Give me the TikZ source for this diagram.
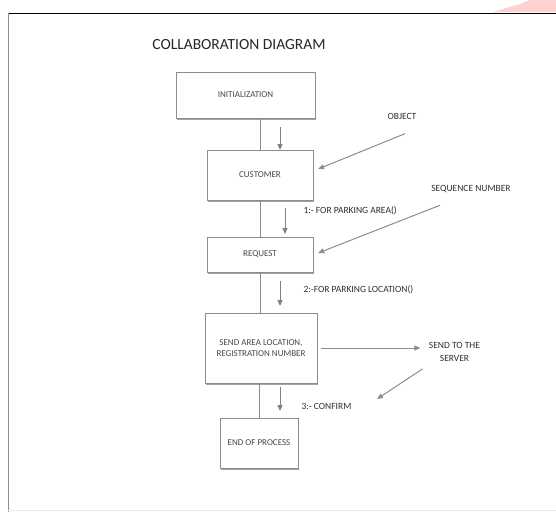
\documentclass[tikz,border=0pt]{standalone}
\usepackage{fontspec}
\setmainfont{Carlito}
\usetikzlibrary{arrows.meta,shadows}

\begin{document}
\begin{tikzpicture}[x=1pt,y=-1pt,
  >={Triangle[width=5pt,length=6pt]},
  box/.style={draw=black!45, fill=white, rectangle, inner sep=0pt, align=center, text=black!72,
    font=\fontsize{9}{11.5}\selectfont,
    drop shadow={shadow xshift=1.4pt,shadow yshift=-1.8pt,fill=black!45,opacity=0.8}},
  lbl/.style={text=black!82, align=center, font=\fontsize{9.5}{12.5}\selectfont},
  link/.style={draw=black!45, line width=0.8pt},
  step arrow/.style={draw=black!50, line width=1pt, ->},
  ptr/.style={draw=black!45, line width=1pt, ->}]
\useasboundingbox (0,0) rectangle (556,512);
\fill[red!18] (492,12) -- (520,4) -- (530,0) -- (556,0) -- (556,12) -- cycle;
\draw[black, line width=1pt] (8,13) -- (556,13);
\draw[black!45, line width=1.6pt] (8.5,13) -- (8.5,512);
\draw[black!8, line width=1pt] (8,510) -- (556,510);

\node[text=black!85, font=\fontsize{15.5}{17}\selectfont] (0) at (239,45) {COLLABORATION DIAGRAM};

\node[box, minimum width=139pt, minimum height=46pt] (1) at (245.5,95) {INITIALIZATION};
\node[box, minimum width=106pt, minimum height=50pt] (2) at (260,175) {CUSTOMER};
\node[box, minimum width=106pt, minimum height=35pt] (3) at (260,254.5) {REQUEST};
\node[box, minimum width=112pt, minimum height=70pt] (4) at (261,348) {SEND AREA LOCATION,\\REGISTRATION NUMBER};
\node[box, minimum width=78pt, minimum height=50pt] (5) at (259,443) {END OF PROCESS};

\node[lbl] (6) at (454.5,352) {SEND TO THE\\SERVER};
\node[lbl] (7) at (402,116) {OBJECT};
\node[lbl] (8) at (471,189) {SEQUENCE NUMBER};
\node[lbl, anchor=west] (9) at (300,211) {1:- FOR PARKING AREA()};
\node[lbl, anchor=west] (10) at (300,290) {2:-FOR PARKING LOCATION()};
\node[lbl, anchor=west] (11) at (298,406) {3:- CONFIRM};

\path[link] (1.south -| 2.north) -- (2.north);
\path[link] (2.south) -- (3.north);
\path[link] (3.south) -- (3.south |- 4.north);
\path[link] (5.north |- 4.south) -- (5.north);

\coordinate (a1) at (280,127);
\coordinate (b1) at (280,150);
\coordinate (a2) at (285,208);
\coordinate (b2) at (285,234);
\coordinate (a3) at (280,281);
\coordinate (b3) at (280,306);
\coordinate (a4) at (280,387);
\coordinate (b4) at (280,411);
\coordinate (r) at (377,399);

\path[step arrow] (a1) -- (b1);
\path[step arrow] (a2) -- (b2);
\path[step arrow] (a3) -- (b3);
\path[step arrow] (a4) -- (b4);

\path[ptr] ([shift={(3,11)}]7.south) -- ([shift={(5,-6)}]2.east);
\path[ptr] ([shift={(-31,9)}]8.south) -- ([shift={(5,-1.5)}]3.east);
\path[ptr, shorten <=4pt, shorten >=5pt] (4.east) -- (4.east -| 6.west);
\path[ptr] ([shift={(-32,4)}]6.south) -- (r);
\end{tikzpicture}
\end{document}
